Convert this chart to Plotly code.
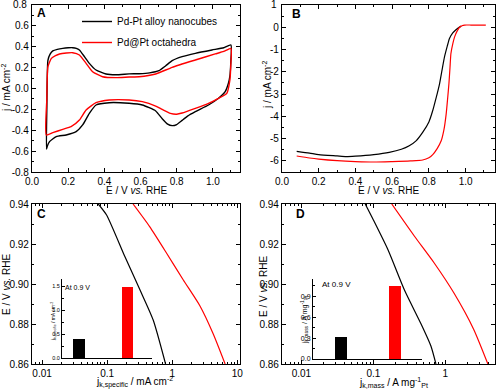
import math
import plotly.graph_objects as go

# ---------------- data ----------------
series_names = ["Pd-Pt alloy nanocubes", "Pd@Pt octahedra"]
colors = ["black", "red"]

# Panel A: cyclic voltammograms (E / V, j / mA cm-2)
cv_black_E = [0.080, 0.082, 0.088, 0.100, 0.115, 0.140, 0.170, 0.200, 0.225, 0.245, 0.262, 0.290, 0.317,
              0.354, 0.409, 0.464, 0.537, 0.592, 0.650, 0.702, 0.738, 0.775, 0.830, 0.903, 0.995, 1.060,
              1.100, 1.099, 1.094, 1.086, 1.068, 1.031, 0.976, 0.903, 0.860, 0.830, 0.800, 0.775, 0.750,
              0.720, 0.684, 0.610, 0.537, 0.427, 0.354, 0.317, 0.280, 0.244, 0.189, 0.134, 0.097, 0.085,
              0.080]
cv_black_j = [-0.58, -0.20, 0.27, 0.33, 0.36, 0.375, 0.385, 0.39, 0.391, 0.385, 0.369, 0.305, 0.241,
              0.177, 0.139, 0.132, 0.140, 0.142, 0.150, 0.171, 0.216, 0.267, 0.305, 0.337, 0.369, 0.39,
              0.417, 0.25, 0.12, 0.05, -0.03, -0.094, -0.158, -0.222, -0.265, -0.305, -0.345, -0.356, -0.342,
              -0.29, -0.215, -0.158, -0.142, -0.136, -0.158, -0.238, -0.349, -0.413, -0.445, -0.461, -0.509,
              -0.55, -0.58]
cv_red_E = [0.079, 0.082, 0.088, 0.107, 0.130, 0.152, 0.190, 0.225, 0.262, 0.299, 0.335, 0.390, 0.464,
            0.537, 0.592, 0.684, 0.775, 0.903, 1.013, 1.060, 1.100, 1.099, 1.094, 1.077, 1.031, 0.976,
            0.903, 0.830, 0.800, 0.765, 0.720, 0.684, 0.610, 0.537, 0.427, 0.354, 0.299, 0.262, 0.216,
            0.170, 0.115, 0.079]
cv_red_j = [-0.445, -0.10, 0.209, 0.289, 0.315, 0.331, 0.34, 0.343, 0.321, 0.241, 0.161, 0.113, 0.104,
            0.110, 0.113, 0.139, 0.203, 0.273, 0.331, 0.355, 0.385, 0.22, 0.08, -0.046, -0.094, -0.142,
            -0.19, -0.235, -0.246, -0.238, -0.20, -0.168, -0.126, -0.11, -0.11, -0.136, -0.206, -0.302,
            -0.366, -0.391, -0.423, -0.445]

# Panel B: ORR polarization curves
orr_black_E = [0.08, 0.15, 0.20, 0.30, 0.35, 0.40, 0.50, 0.584, 0.65, 0.693, 0.73, 0.766, 0.80, 0.821,
               0.84, 0.858, 0.872, 0.885, 0.90, 0.912, 0.93, 0.949, 0.965, 0.976]
orr_black_j = [-5.57, -5.65, -5.72, -5.78, -5.81, -5.79, -5.72, -5.62, -5.48, -5.32, -5.1, -4.72, -4.25,
               -3.74, -3.15, -2.54, -1.9, -1.33, -0.85, -0.5, -0.25, -0.1, 0.0, 0.05]
orr_red_E = [0.08, 0.15, 0.20, 0.30, 0.40, 0.50, 0.60, 0.70, 0.766, 0.80, 0.821, 0.845, 0.867, 0.882,
             0.894, 0.902, 0.909, 0.915, 0.92, 0.93, 0.94, 0.955, 0.967, 0.98, 0.995, 1.03, 1.07, 1.11]
orr_red_j = [-5.78, -5.87, -5.92, -5.99, -6.03, -6.05, -6.03, -6.0, -5.96, -5.86, -5.72, -5.45, -5.1,
             -4.6, -3.9, -3.2, -2.54, -1.8, -1.18, -0.75, -0.43, -0.15, 0.0, 0.07, 0.1, 0.1, 0.1, 0.1]

# Panel C: specific activity Tafel plots
spec_black_jk = [0.073, 0.098, 0.187, 0.32, 0.51, 0.79]
spec_black_E = [0.94, 0.9345, 0.9137, 0.897, 0.882, 0.86]
spec_red_jk = [0.25, 0.45, 0.82, 1.48, 2.67, 4.27, 6.5]
spec_red_E = [0.94, 0.9287, 0.9154, 0.902, 0.889, 0.875, 0.86]

# Panel D: mass activity Tafel plots
mass_black_jk = [0.077, 0.10, 0.16, 0.27, 0.46, 0.63, 0.74]
mass_black_E = [0.94, 0.932, 0.917, 0.897, 0.880, 0.869, 0.86]
mass_red_jk = [0.18, 0.37, 0.70, 1.31, 2.47, 3.9]
mass_red_E = [0.94, 0.924, 0.9105, 0.8956, 0.8774, 0.86]

# Insets: activities at 0.9 V
bar_positions = [0, 1]
spec_at_09 = [0.40, 1.49]
mass_at_09 = [0.32, 1.05]

# tick values / labels
tick_E = [0.0, 0.2, 0.4, 0.6, 0.8, 1.0]
tick_E_text = ["0.0", "0.2", "0.4", "0.6", "0.8", "1.0"]
minor_E = [0.1, 0.3, 0.5, 0.7, 0.9, 1.1]
tick_jA = [-0.8, -0.6, -0.4, -0.2, 0.0, 0.2, 0.4, 0.6, 0.8]
tick_jA_text = ["-0.8", "-0.6", "-0.4", "-0.2", "0.0", "0.2", "0.4", "0.6", "0.8"]
minor_jA = [-0.7, -0.5, -0.3, -0.1, 0.1, 0.3, 0.5, 0.7]
tick_jB = [-6, -5, -4, -3, -2, -1, 0, 1]
tick_jB_text = ["-6", "-5", "-4", "-3", "-2", "-1", "0", "1"]
minor_jB = [-6.5, -5.5, -4.5, -3.5, -2.5, -1.5, -0.5, 0.5]
tick_Et = [0.86, 0.88, 0.90, 0.92, 0.94]
tick_Et_text = ["0.86", "0.88", "0.90", "0.92", "0.94"]
minor_Et = [0.87, 0.89, 0.91, 0.93]
tick_logC = [0.01, 0.1, 1, 10]
tick_logC_text = ["0.01", "0.1", "1", "10"]
tick_logD = [0.01, 0.1, 1]
tick_logD_text = ["0.01", "0.1", "1"]
minor_log = [m * 10 ** k for k in range(-3, 2) for m in range(2, 10)]
tick_insC = [0.0, 0.5, 1.0, 1.5]
tick_insC_text = ["0.0", "0.5", "1.0", "1.5"]
minor_insC = [0.25, 0.75, 1.25]
tick_insD = [0.0, 0.3, 0.6, 0.9]
tick_insD_text = ["0.0", "0.3", "0.6", "0.9"]
minor_insD = [0.15, 0.45, 0.75, 1.05]

# ---------------- layout helpers ----------------
W, H = 500, 390
FONT = "Arial, Liberation Sans, sans-serif"


def px_x(a, b):
    return [a / W, b / W]


def px_y(top, bottom):
    return [1 - bottom / H, 1 - top / H]


def frame_axis(domain, rng, anchor, tickvals, ticktext, minorvals, axtype="linear", fsize=10):
    return dict(domain=domain, range=rng, anchor=anchor, type=axtype,
                showline=True, linecolor="black", linewidth=1.2, mirror="ticks",
                ticks="inside", ticklen=4, tickwidth=1, tickcolor="black",
                tickmode="array", tickvals=tickvals, ticktext=ticktext,
                tickfont=dict(size=fsize, color="black", family=FONT),
                ticklabeloverflow="allow",
                minor=dict(ticks="inside", ticklen=2, tickwidth=1, tickcolor="black",
                           tickmode="array", tickvals=minorvals, showgrid=False),
                showgrid=False, zeroline=False, automargin=False, fixedrange=True)


def inset_axis(domain, rng, anchor, tickvals=None, ticktext=None, minorvals=None, fsize=6, show=True):
    d = dict(domain=domain, range=rng, anchor=anchor, showline=True, linecolor="black",
             linewidth=1, mirror=False, showgrid=False, zeroline=False, automargin=False,
             fixedrange=True)
    if show:
        d.update(ticks="inside", ticklen=3, tickwidth=1, tickcolor="black",
                 tickmode="array", tickvals=tickvals, ticktext=ticktext,
                 tickfont=dict(size=fsize, color="black", family=FONT),
                 ticklabeloverflow="allow",
                 minor=dict(ticks="inside", ticklen=1.5, tickwidth=1, tickcolor="black",
                            tickmode="array", tickvals=minorvals, showgrid=False))
    else:
        d.update(showticklabels=False, ticks="")
    return d


fig = go.Figure()

# Panel A
fig.add_trace(go.Scatter(x=cv_black_E, y=cv_black_j, mode="lines", name=series_names[0],
                         legendgroup="a",
                         line=dict(color=colors[0], width=1.4, shape="spline", smoothing=0.5),
                         xaxis="x", yaxis="y"))
fig.add_trace(go.Scatter(x=cv_red_E, y=cv_red_j, mode="lines", name=series_names[1],
                         legendgroup="b",
                         line=dict(color=colors[1], width=1.4, shape="spline", smoothing=0.5),
                         xaxis="x", yaxis="y"))
# Panel B
fig.add_trace(go.Scatter(x=orr_black_E, y=orr_black_j, mode="lines", showlegend=False,
                         line=dict(color=colors[0], width=1.2, shape="spline", smoothing=0.6),
                         xaxis="x2", yaxis="y2"))
fig.add_trace(go.Scatter(x=orr_red_E, y=orr_red_j, mode="lines", showlegend=False,
                         line=dict(color=colors[1], width=1.2, shape="spline", smoothing=0.6),
                         xaxis="x2", yaxis="y2"))
# Panel C
fig.add_trace(go.Scatter(x=spec_black_jk, y=spec_black_E, mode="lines", showlegend=False,
                         line=dict(color=colors[0], width=1.2, shape="spline", smoothing=0.6),
                         xaxis="x3", yaxis="y3"))
fig.add_trace(go.Scatter(x=spec_red_jk, y=spec_red_E, mode="lines", showlegend=False,
                         line=dict(color=colors[1], width=1.2, shape="spline", smoothing=0.6),
                         xaxis="x3", yaxis="y3"))
# Panel D
fig.add_trace(go.Scatter(x=mass_black_jk, y=mass_black_E, mode="lines", showlegend=False,
                         line=dict(color=colors[0], width=1.2, shape="spline", smoothing=0.6),
                         xaxis="x4", yaxis="y4"))
fig.add_trace(go.Scatter(x=mass_red_jk, y=mass_red_E, mode="lines", showlegend=False,
                         line=dict(color=colors[1], width=1.2, shape="spline", smoothing=0.6),
                         xaxis="x4", yaxis="y4"))
# Insets
fig.add_trace(go.Bar(x=bar_positions, y=spec_at_09, width=0.23, marker=dict(color=colors, line=dict(width=0)),
                     showlegend=False, xaxis="x5", yaxis="y5"))
fig.add_trace(go.Bar(x=bar_positions, y=mass_at_09, width=0.22, marker=dict(color=colors, line=dict(width=0)),
                     showlegend=False, xaxis="x6", yaxis="y6"))

dxA, dxB = px_x(32, 240), px_x(282, 495)
dyTop, dyBot = px_y(5, 172), px_y(204, 364)

# the topmost labels of panels A and B are drawn as annotations (Plotly drops them at the frame top)
tick_jA_axis_text = tick_jA_text[:-1] + [""]
tick_jB_axis_text = tick_jB_text[:-1] + [""]

fig.update_layout(
    width=W, height=H, template="none",
    margin=dict(l=0, r=0, t=0, b=0),
    paper_bgcolor="white", plot_bgcolor="rgba(0,0,0,0)",
    font=dict(family=FONT, size=10, color="black"),
    bargap=0,
    xaxis=frame_axis(dxA, [0, 1.15], "y", tick_E, tick_E_text, minor_E),
    yaxis=frame_axis(dyTop, [-0.8, 0.8], "x", tick_jA, tick_jA_axis_text, minor_jA),
    xaxis2=frame_axis(dxB, [0, 1.16], "y2", tick_E, tick_E_text, minor_E),
    yaxis2=frame_axis(dyTop, [-6.5, 1], "x2", tick_jB, tick_jB_axis_text, minor_jB),
    xaxis3=frame_axis(dxA, [math.log10(0.007), math.log10(11)], "y3", tick_logC, tick_logC_text,
                      minor_log, axtype="log"),
    yaxis3=frame_axis(dyBot, [0.86, 0.94], "x3", tick_Et, tick_Et_text, minor_Et),
    xaxis4=frame_axis(dxB, [-2.27, 0.69], "y4", tick_logD, tick_logD_text, minor_log, axtype="log"),
    yaxis4=frame_axis(dyBot, [0.86, 0.94], "x4", tick_Et, tick_Et_text, minor_Et),
    xaxis5=inset_axis(px_x(62, 152), [-0.35, 1.5], "y5", show=False),
    yaxis5=inset_axis(px_y(279, 358), [0, 1.65], "x5", tick_insC, tick_insC_text, minor_insC, fsize=5.5),
    xaxis6=inset_axis(px_x(313, 422), [-0.52, 1.5], "y6", show=False),
    yaxis6=inset_axis(px_y(279, 359), [0, 1.15], "x6", tick_insD, tick_insD_text, minor_insD, fsize=7),
    legend=dict(x=77 / W, y=1 - 7 / H, xanchor="left", yanchor="top", bgcolor="rgba(0,0,0,0)",
                font=dict(size=10, family=FONT), tracegroupgap=2, itemwidth=30),
    showlegend=True,
)

ann = []


def add_text(text, x, y, size=10, angle=0, bold=False, xanchor="center"):
    ann.append(dict(text=("<b>%s</b>" % text) if bold else text, x=x / W, y=1 - y / H,
                    xref="paper", yref="paper", showarrow=False, textangle=angle,
                    xanchor=xanchor, yanchor="middle", font=dict(size=size, family=FONT, color="black")))


add_text("A", 41.5, 13, size=12, bold=True)
add_text("B", 296.5, 14, size=12, bold=True)
add_text("C", 41.5, 214, size=12, bold=True)
add_text("D", 300, 214, size=12, bold=True)
add_text("E / V <i>vs.</i> RHE", 136, 190.5)
add_text("E / V <i>vs.</i> RHE", 388, 190.5)
add_text("j / mA cm<sup>-2</sup>", 6, 88, angle=-90)
add_text("j / mA cm<sup>-2</sup>", 267, 85, angle=-90)
add_text("E / V <i>vs.</i> RHE", 6, 285, angle=-90)
add_text("E / V <i>vs.</i> RHE", 263, 287, angle=-90)
add_text("j<sub>k,specific</sub> / mA cm<sup>-2</sup>", 134, 382)
add_text("j<sub>k,mass</sub> / A mg<sup>-1</sup><sub>Pt</sub>", 393, 382)
add_text("j<sub>k,specific</sub> / mA cm<sup>-2</sup>", 53, 322, size=5, angle=-90)
add_text("j<sub>k,mass</sub> / A mg<sup>-1</sup><sub>Pt</sub>", 304, 320, size=7, angle=-90)
add_text("At 0.9 V", 63, 287, size=7, xanchor="left")
add_text("At 0.9 V", 320, 284, size=8, xanchor="left")

# top tick labels of A and B, positioned at their tick values through the y axes
ann.append(dict(text=tick_jA_text[-1], x=29 / W, y=tick_jA[-1], xref="paper", yref="y",
                showarrow=False, xanchor="right", yanchor="middle",
                font=dict(size=10, family=FONT, color="black")))
ann.append(dict(text=tick_jB_text[-1], x=279 / W, y=tick_jB[-1], xref="paper", yref="y2",
                showarrow=False, xanchor="right", yanchor="middle",
                font=dict(size=10, family=FONT, color="black")))

fig.update_layout(annotations=ann)
fig.write_html("out.html", config={"displayModeBar": False},
               post_script="document.body.style.margin='0';")
